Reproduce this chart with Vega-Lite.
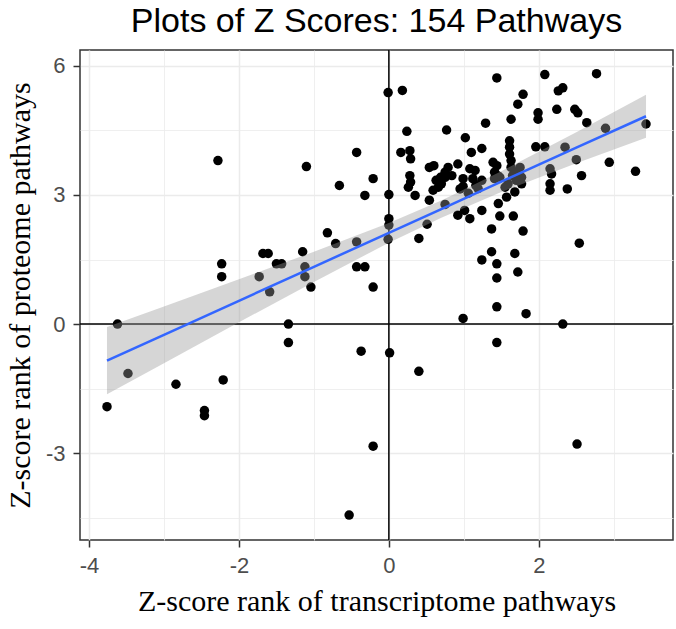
{
  "$schema": "https://vega.github.io/schema/vega-lite/v6.json",
  "width": 593,
  "height": 490,
  "autosize": {"type": "none"},
  "padding": {"left": 80, "top": 50, "right": 3, "bottom": 89},
  "background": "white",
  "title": {"text": "Plots of Z Scores: 154 Pathways", "font": "Liberation Sans", "fontSize": 34, "fontWeight": "normal", "color": "black", "anchor": "middle", "offset": 10},
  "config": {
    "view": {"stroke": "#333333", "strokeWidth": 1.5},
    "axis": {
      "domain": false,
      "tickColor": "#333333",
      "tickSize": 7,
      "tickWidth": 1.5,
      "labelColor": "#4D4D4D",
      "labelFont": "Liberation Sans",
      "labelFontSize": 22,
      "labelPadding": 8,
      "gridColor": "#EBEBEB",
      "titleFont": "Liberation Serif",
      "titleFontSize": 30,
      "titleFontWeight": "normal",
      "titleColor": "black"
    }
  },
  "datasets": {
    "pts": [
      {"x": -3.76, "y": -1.92}, {"x": -3.62, "y": 0.0}, {"x": -3.48, "y": -1.15}, {"x": -2.84, "y": -1.4},
      {"x": -2.46, "y": -2.01}, {"x": -2.46, "y": -2.13}, {"x": -2.21, "y": -1.3}, {"x": -2.28, "y": 3.8},
      {"x": -2.23, "y": 1.4}, {"x": -2.23, "y": 1.1}, {"x": -1.68, "y": 1.64}, {"x": -1.61, "y": 1.64},
      {"x": -1.5, "y": 1.4}, {"x": -1.43, "y": 1.4}, {"x": -1.73, "y": 1.1}, {"x": -1.59, "y": 0.75},
      {"x": -1.34, "y": 0.0}, {"x": -1.34, "y": -0.43}, {"x": -1.15, "y": 1.68}, {"x": -1.12, "y": 1.33},
      {"x": -1.12, "y": 1.1}, {"x": -1.04, "y": 0.86}, {"x": -1.1, "y": 3.66}, {"x": -0.82, "y": 2.12},
      {"x": -0.71, "y": 1.87}, {"x": -0.66, "y": 3.22}, {"x": -0.53, "y": -4.44}, {"x": -0.43, "y": 3.99},
      {"x": -0.21, "y": 3.38}, {"x": -0.32, "y": 2.99}, {"x": -0.43, "y": 1.91}, {"x": -0.43, "y": 1.33},
      {"x": -0.32, "y": 1.33}, {"x": -0.21, "y": 0.86}, {"x": -0.37, "y": -0.63}, {"x": 0.01, "y": -0.67},
      {"x": -0.21, "y": -2.84}, {"x": -0.01, "y": 5.38}, {"x": 0.0, "y": 3.01}, {"x": 0.0, "y": 2.45},
      {"x": 0.0, "y": 2.3}, {"x": -0.01, "y": 1.97}, {"x": 0.18, "y": 5.43}, {"x": 0.24, "y": 4.48},
      {"x": 0.16, "y": 3.99}, {"x": 0.28, "y": 4.03}, {"x": 0.29, "y": 3.84}, {"x": 0.28, "y": 3.45},
      {"x": 0.29, "y": 3.3}, {"x": 0.26, "y": 3.18}, {"x": 0.35, "y": 2.99}, {"x": 0.54, "y": 2.88},
      {"x": 0.51, "y": 2.32}, {"x": 0.4, "y": 1.99}, {"x": 0.4, "y": -1.1}, {"x": 0.54, "y": 3.64},
      {"x": 0.6, "y": 3.68}, {"x": 0.63, "y": 3.34}, {"x": 0.69, "y": 3.41}, {"x": 0.75, "y": 3.53},
      {"x": 0.79, "y": 3.64}, {"x": 0.66, "y": 3.18}, {"x": 0.7, "y": 3.26}, {"x": 0.59, "y": 3.11},
      {"x": 0.75, "y": 3.41}, {"x": 0.77, "y": 4.51}, {"x": 0.75, "y": 2.78}, {"x": 0.84, "y": 3.45},
      {"x": 0.92, "y": 3.72}, {"x": 1.02, "y": 4.33}, {"x": 1.1, "y": 3.99}, {"x": 1.24, "y": 4.08},
      {"x": 1.08, "y": 3.61}, {"x": 1.15, "y": 3.57}, {"x": 0.99, "y": 3.38}, {"x": 1.12, "y": 3.38},
      {"x": 0.99, "y": 3.2}, {"x": 0.95, "y": 3.14}, {"x": 1.06, "y": 3.04}, {"x": 1.16, "y": 3.22},
      {"x": 1.24, "y": 3.34}, {"x": 1.19, "y": 3.15}, {"x": 0.92, "y": 2.53}, {"x": 1.01, "y": 2.64},
      {"x": 1.08, "y": 2.45}, {"x": 1.24, "y": 2.64}, {"x": 0.99, "y": 0.13}, {"x": 1.29, "y": 4.67},
      {"x": 1.44, "y": 5.72}, {"x": 1.39, "y": 3.76}, {"x": 1.44, "y": 3.68}, {"x": 1.41, "y": 3.53},
      {"x": 1.45, "y": 3.45}, {"x": 1.41, "y": 3.38}, {"x": 1.48, "y": 3.41}, {"x": 1.46, "y": 2.8},
      {"x": 1.48, "y": 2.51}, {"x": 1.37, "y": 2.21}, {"x": 1.24, "y": 1.49}, {"x": 1.37, "y": 1.68},
      {"x": 1.44, "y": 1.4}, {"x": 1.44, "y": 1.07}, {"x": 1.44, "y": 0.4}, {"x": 1.44, "y": -0.43},
      {"x": 1.55, "y": 3.18}, {"x": 1.59, "y": 3.26}, {"x": 1.61, "y": 4.26}, {"x": 1.61, "y": 4.11},
      {"x": 1.61, "y": 3.95}, {"x": 1.63, "y": 3.8}, {"x": 1.63, "y": 3.64}, {"x": 1.63, "y": 4.76},
      {"x": 1.65, "y": 3.45}, {"x": 1.7, "y": 3.53}, {"x": 1.75, "y": 3.64}, {"x": 1.7, "y": 3.34},
      {"x": 1.77, "y": 3.26}, {"x": 1.77, "y": 3.41}, {"x": 1.68, "y": 3.07}, {"x": 1.57, "y": 2.95},
      {"x": 1.66, "y": 2.51}, {"x": 1.79, "y": 2.16}, {"x": 1.68, "y": 1.64}, {"x": 1.72, "y": 1.21},
      {"x": 1.83, "y": 0.24}, {"x": 1.72, "y": 5.11}, {"x": 1.79, "y": 5.34}, {"x": 1.99, "y": 4.91},
      {"x": 1.99, "y": 4.76}, {"x": 1.96, "y": 4.12}, {"x": 2.08, "y": 4.12}, {"x": 2.08, "y": 5.8},
      {"x": 2.15, "y": 3.61}, {"x": 2.17, "y": 3.49}, {"x": 2.15, "y": 3.26}, {"x": 2.15, "y": 3.11},
      {"x": 2.38, "y": 3.14}, {"x": 2.24, "y": 4.99}, {"x": 2.26, "y": 5.42}, {"x": 2.32, "y": 5.49},
      {"x": 2.35, "y": 4.11}, {"x": 2.5, "y": 3.82}, {"x": 2.48, "y": 4.99}, {"x": 2.52, "y": 4.91},
      {"x": 2.64, "y": 4.68}, {"x": 2.57, "y": 3.45}, {"x": 2.54, "y": 1.88}, {"x": 2.77, "y": 5.82},
      {"x": 2.89, "y": 4.55}, {"x": 2.94, "y": 3.76}, {"x": 3.29, "y": 3.55}, {"x": 3.43, "y": 4.65},
      {"x": 2.32, "y": 0.0}, {"x": 2.51, "y": -2.79}
    ],
    "fit": [
      {"x": -3.76, "fit": -0.85, "lo": -1.63, "hi": -0.07},
      {"x": -3.0, "fit": -0.25, "lo": -0.91, "hi": 0.41},
      {"x": -2.0, "fit": 0.54, "lo": 0.04, "hi": 1.04},
      {"x": -1.0, "fit": 1.33, "lo": 0.98, "hi": 1.68},
      {"x": 0.0, "fit": 2.12, "lo": 1.89, "hi": 2.35},
      {"x": 0.7, "fit": 2.67, "lo": 2.47, "hi": 2.87},
      {"x": 1.5, "fit": 3.31, "lo": 3.07, "hi": 3.55},
      {"x": 2.5, "fit": 4.1, "lo": 3.74, "hi": 4.46},
      {"x": 3.43, "fit": 4.83, "lo": 4.33, "hi": 5.33}
    ],
    "zero": [{"v": 0}]
  },
  "layer": [
    {
      "data": {"name": "zero"},
      "mark": {"type": "rule", "color": "black", "strokeWidth": 1.5},
      "encoding": {
        "x": {"field": "v", "type": "quantitative", "scale": {"domain": [-4.12, 3.79], "nice": false, "zero": false},
          "axis": {"title": "Z-score rank of transcriptome pathways", "values": [-4, -3, -2, -1, 0, 1, 2, 3],
            "labelExpr": "datum.value % 2 === 0 ? toString(datum.value) : ''",
            "tickOpacity": {"condition": {"test": "datum.value % 2 !== 0", "value": 0}, "value": 1},
            "gridWidth": {"condition": {"test": "datum.value % 2 !== 0", "value": 0.8}, "value": 1.5},
            "titlePadding": 10}}
      }
    },
    {
      "data": {"name": "zero"},
      "mark": {"type": "rule", "color": "black", "strokeWidth": 1.5},
      "encoding": {
        "y": {"field": "v", "type": "quantitative", "scale": {"domain": [-5.02, 6.37], "nice": false, "zero": false},
          "axis": {"title": "Z-score rank of proteome pathways", "values": [-4.5, -3, -1.5, 0, 1.5, 3, 4.5, 6],
            "labelExpr": "datum.value % 3 === 0 ? toString(datum.value) : ''",
            "tickOpacity": {"condition": {"test": "datum.value % 3 !== 0", "value": 0}, "value": 1},
            "gridWidth": {"condition": {"test": "datum.value % 3 !== 0", "value": 0.8}, "value": 1.5},
            "titlePadding": 10}}
      }
    },
    {
      "data": {"name": "pts"},
      "mark": {"type": "circle", "size": 90, "color": "black", "opacity": 1},
      "encoding": {
        "x": {"field": "x", "type": "quantitative", "title": "Z-score rank of transcriptome pathways"},
        "y": {"field": "y", "type": "quantitative", "title": "Z-score rank of proteome pathways"}
      }
    },
    {
      "data": {"name": "fit"},
      "mark": {"type": "area", "color": "#999999", "opacity": 0.4},
      "encoding": {
        "x": {"field": "x", "type": "quantitative", "title": "Z-score rank of transcriptome pathways"},
        "y": {"field": "lo", "type": "quantitative", "title": "Z-score rank of proteome pathways"},
        "y2": {"field": "hi"}
      }
    },
    {
      "data": {"name": "fit"},
      "mark": {"type": "line", "color": "#3366FF", "strokeWidth": 2.5},
      "encoding": {
        "x": {"field": "x", "type": "quantitative", "title": "Z-score rank of transcriptome pathways"},
        "y": {"field": "fit", "type": "quantitative", "title": "Z-score rank of proteome pathways"}
      }
    }
  ]
}
